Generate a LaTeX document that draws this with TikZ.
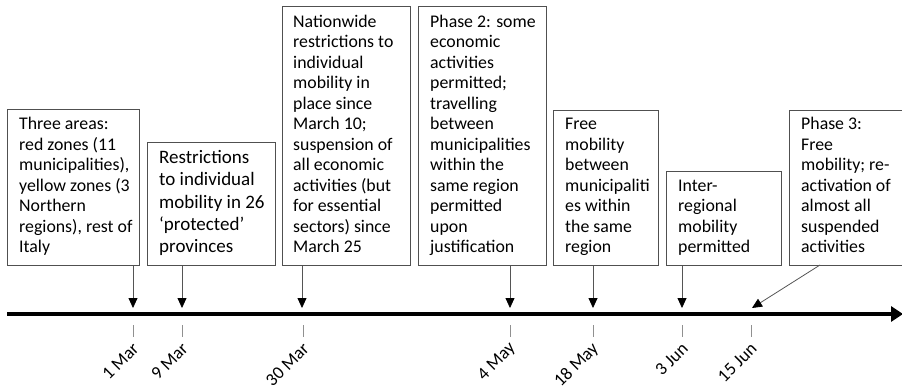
\documentclass[tikz,border=0pt]{standalone}
\usepackage{fontspec}
\setmainfont{Carlito}
\usetikzlibrary{arrows.meta}
\definecolor{boxline}{HTML}{505050}
\definecolor{arrline}{HTML}{555555}
\definecolor{tickcol}{HTML}{909090}
\tikzset{
  evbox/.style={draw=boxline, line width=0.9pt, rectangle, inner sep=0pt, anchor=north west},
  evtext/.style={anchor=south west, inner sep=0pt, align=left, text=black,
    font=\fontsize{17.8}{20.5}\selectfont},
  evtextbig/.style={evtext, font=\fontsize{19}{22.3}\selectfont},
  pointer/.style={draw=arrline, line width=0.8pt, -{Triangle[length=10pt,width=9pt,color=black]}},
  timeline/.style={draw=black, line width=4.2pt, -{Triangle[length=12pt,width=15pt]}},
  tickmark/.style={draw=tickcol, line width=0.9pt},
  datelabel/.style={anchor=east, inner sep=0pt, rotate=45, text=black,
    font=\fontsize{18}{20}\selectfont},
}
\begin{document}
\begin{tikzpicture}[x=1pt,y=1pt]
\useasboundingbox (0,0) rectangle (902,-391);
% boxes
\node[evbox, minimum width=132pt, minimum height=156pt] (b1) at (7,-109) {};
\node[evbox, minimum width=128pt, minimum height=123pt] (b2) at (147,-142) {};
\node[evbox, minimum width=128pt, minimum height=259pt] (b3) at (282,-6) {};
\node[evbox, minimum width=128pt, minimum height=259pt] (b4) at (418,-6) {};
\node[evbox, minimum width=105pt, minimum height=155pt] (b5) at (553,-110) {};
\node[evbox, minimum width=115pt, minimum height=94pt] (b6) at (666,-171) {};
\node[evbox, minimum width=120pt, minimum height=155pt] (b7) at (789,-110) {};
% texts (last baseline aligned)
\node[evtext] (t1) at (19,-259) {Three areas:\\red zones (11\\municipalities),\\yellow zones (3\\Northern\\regions), rest of\\Italy\strut};
\node[evtextbig] (t2) at (159,-259.5) {Restrictions\\to individual\\mobility in 26\\‘protected’\\provinces\strut};
\node[evtext] (t3) at (293,-259) {Nationwide\\restrictions to\\individual\\mobility in\\place since\\March 10;\\suspension of\\all economic\\activities (but\\for essential\\sectors) since\\March 25\strut};
\node[evtext] (t4) at (430,-259) {Phase 2: some\\economic\\activities\\permitted;\\travelling\\between\\municipalities\\within the\\same region\\permitted\\upon\\justification\strut};
\node[evtext] (t5) at (565,-259) {Free\\mobility\\between\\municipaliti\\es within\\the same\\region\strut};
\node[evtext] (t6) at (678,-259) {Inter-\\regional\\mobility\\permitted\strut};
\node[evtext] (t7) at (801,-259) {Phase 3:\\Free\\mobility; re-\\activation of\\almost all\\suspended\\activities\strut};
% timeline
\coordinate (tl0) at (7,-314);
\coordinate (tl1) at (903,-314);
\draw[timeline] (tl0) -- (tl1);
% arrow tips
\coordinate (p1) at (133,-308);
\coordinate (p2) at (182,-308);
\coordinate (p3) at (302,-308);
\coordinate (p4) at (510,-308);
\coordinate (p5) at (593,-308);
\coordinate (p6) at (682,-308);
\coordinate (p7) at (752,-308);
\coordinate (s7) at (820,-265);
\draw[pointer] (b1.south -| p1) -- (p1);
\draw[pointer] (b2.south -| p2) -- (p2);
\draw[pointer] (b3.south -| p3) -- (p3);
\draw[pointer] (b4.south -| p4) -- (p4);
\draw[pointer] (b5.south -| p5) -- (p5);
\draw[pointer] (b6.south -| p6) -- (p6);
\draw[pointer] (s7) -- (p7);
% ticks
\foreach \n/\x in {1/133,2/182,3/303,4/510,5/593,6/682,7/751}{
  \coordinate (k\n a) at (\x,-325);
  \coordinate (k\n b) at (\x,-337);
  \draw[tickmark] (k\n a) -- (k\n b);
}
% dates
\node[datelabel] (d1) at (136,-346) {1 Mar};
\node[datelabel] (d2) at (185,-346) {9 Mar};
\node[datelabel] (d3) at (306,-346) {30 Mar};
\node[datelabel] (d4) at (513,-346) {4 May};
\node[datelabel] (d5) at (596,-346) {18 May};
\node[datelabel] (d6) at (685,-346) {3 Jun};
\node[datelabel] (d7) at (754,-346) {15 Jun};
\end{tikzpicture}
\end{document}
